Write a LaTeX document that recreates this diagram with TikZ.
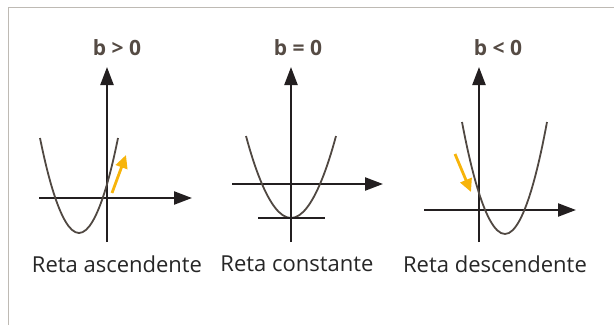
\documentclass[tikz,border=0pt]{standalone}
\usepackage{fontspec}
\setmainfont{Open Sans}
\usetikzlibrary{arrows.meta}
\definecolor{framegray}{RGB}{190,186,180}
\definecolor{axisblack}{RGB}{35,31,32}
\definecolor{curvegray}{RGB}{80,72,66}
\definecolor{titlegray}{RGB}{85,75,68}
\definecolor{arrowyellow}{RGB}{247,180,10}
\begin{document}
\begin{tikzpicture}[x=1pt,y=-1pt,
  axis/.style={draw=axisblack,line width=2.3pt,-{Triangle[length=18pt,width=13pt]}},
  plainline/.style={draw=axisblack,line width=2.3pt},
  curve/.style={draw=curvegray,line width=1.8pt},
  hint/.style={draw=arrowyellow,line width=2.8pt,-{Triangle[length=13pt,width=12pt]}},
  title/.style={font=\fontsize{21}{24}\selectfont\bfseries,text=titlegray,inner sep=0pt},
  caption/.style={font=\fontsize{22}{26}\selectfont,text=black!85,inner sep=0pt}]
\useasboundingbox (0,0) rectangle (614,325);
\draw[framegray,line width=1.6pt] (8.5,325) -- (8.5,7.5) -- (614,7.5);
% panel 1
\node[title] (t1) at (117,48) {b > 0};
\coordinate (v1a) at (107,242); \coordinate (v1b) at (107,67);
\coordinate (h1a) at (39,198); \coordinate (h1b) at (192,198);
\draw[axis] (v1a) -- (v1b);
\draw[axis] (h1a) -- (h1b);
\coordinate (p1a) at (40,138); \coordinate (p1v) at (79,233); \coordinate (p1b) at (118,138);
\draw[curve] (p1a) parabola bend (p1v) (p1b);
\coordinate (y1a) at (112,193); \coordinate (y1b) at (126,155);
\draw[hint] (y1a) -- (y1b);
\node[caption] (c1) at (117,264) {Reta ascendente};
% panel 2
\node[title] (t2) at (298,48) {b = 0};
\coordinate (v2a) at (291,242); \coordinate (v2b) at (291,67);
\coordinate (h2a) at (232,184); \coordinate (h2b) at (383,184);
\draw[axis] (v2a) -- (v2b);
\draw[axis] (h2a) -- (h2b);
\coordinate (p2a) at (246,136); \coordinate (p2v) at (291,218); \coordinate (p2b) at (336,136);
\draw[curve] (p2a) parabola bend (p2v) (p2b);
\coordinate (l2a) at (258,218); \coordinate (l2b) at (325,218);
\draw[plainline] (l2a) -- (l2b);
\node[caption] (c2) at (297,264) {Reta constante};
% panel 3
\node[title] (t3) at (498,48) {b < 0};
\coordinate (v3a) at (479,242); \coordinate (v3b) at (479,67);
\coordinate (h3a) at (424,210); \coordinate (h3b) at (576,210);
\draw[axis] (v3a) -- (v3b);
\draw[axis] (h3a) -- (h3b);
\coordinate (p3a) at (462,122); \coordinate (p3v) at (505,234); \coordinate (p3b) at (547,122);
\draw[curve] (p3a) parabola bend (p3v) (p3b);
\coordinate (y3a) at (455,154); \coordinate (y3b) at (471,192);
\draw[hint] (y3a) -- (y3b);
\node[caption] (c3) at (495,264) {Reta descendente};
\end{tikzpicture}
\end{document}
